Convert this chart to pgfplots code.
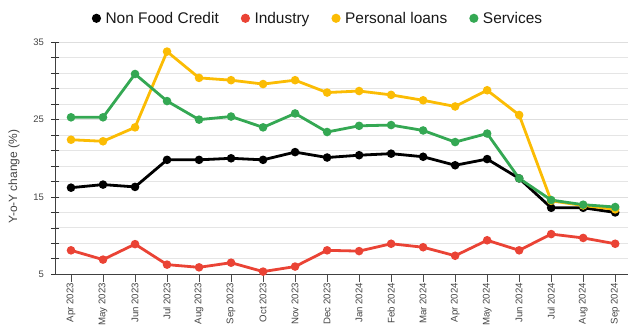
\documentclass[border=0pt]{standalone}
\usepackage{pgfplots}
\pgfplotsset{compat=1.18}
\usepackage{fontspec}
\setmainfont{Liberation Sans}
\definecolor{cRed}{HTML}{EA4335}
\definecolor{cYel}{HTML}{FBBC04}
\definecolor{cGrn}{HTML}{34A853}
\definecolor{cTick}{HTML}{444444}
\newcommand{\lf}{\fontsize{15.5}{17}\selectfont}
\begin{document}
\begin{tikzpicture}
\begin{axis}[
  name=ax,
  scale only axis, width=573bp, height=232bp,
  xmin=-0.5, xmax=17.4, ymin=5, ymax=35,
  axis x line*=bottom, axis y line*=left,
  axis line style={-, draw=black!75, line width=0.8bp},
  /pgf/number format/assume math mode=true,
  xtick={0,...,17},
  xticklabels={Apr 2023,May 2023,Jun 2023,Jul 2023,Aug 2023,Sep 2023,Oct 2023,Nov 2023,Dec 2023,Jan 2024,Feb 2024,Mar 2024,Apr 2024,May 2024,Jun 2024,Jul 2024,Aug 2024,Sep 2024},
  x tick label style={rotate=90, anchor=east, inner sep=1bp, font=\fontsize{9.7}{11}\selectfont, text=cTick},
  y tick label style={font=\fontsize{9.5}{11}\selectfont, text=cTick},
  ytick={5,15,25,35},
  minor ytick={7,9,11,13,17,19,21,23,27,29,31,33},
  tick align=outside,
  major tick length=7.5bp, minor tick length=8bp,
  x tick style={draw=black!70, line width=0.7bp},
  y tick style={draw=black!80, line width=0.7bp, xshift=4bp},
  ymajorgrids, yminorgrids,
  major grid style={draw=black!13, line width=0.8bp},
  minor grid style={draw=black!10, line width=0.8bp},
  ylabel={Y-o-Y change (\%)},
  ylabel style={at={(rel axis cs:-0.0716,0.42)}, anchor=center, font=\fontsize{12}{14}\selectfont, text=cTick},
  legend columns=4,
  legend style={draw=none, fill=none, at={(0.459,1)}, anchor=center, yshift=24bp,
    text=black!90,
    /tikz/every odd column/.append style={column sep=2.5bp},
    /tikz/every even column/.append style={column sep=20bp}},
  legend image code/.code={\fill[#1, draw=none] (0bp,0bp) circle (4.6bp);},
  every axis plot/.append style={line width=2.8bp, mark=*, mark size=2.8bp},
]
\addplot[black, mark options={fill=black}] coordinates {(0,16.2)(1,16.6)(2,16.3)(3,19.8)(4,19.8)(5,20.0)(6,19.8)(7,20.8)(8,20.1)(9,20.4)(10,20.6)(11,20.2)(12,19.1)(13,19.9)(14,17.4)(15,13.6)(16,13.6)(17,13.0)};
\addlegendentry{\lf Non Food Credit}
\addplot[cRed, mark options={fill=cRed}] coordinates {(0,8.1)(1,6.9)(2,8.9)(3,6.25)(4,5.9)(5,6.5)(6,5.35)(7,6.0)(8,8.1)(9,8.0)(10,8.95)(11,8.5)(12,7.4)(13,9.4)(14,8.1)(15,10.2)(16,9.7)(17,8.95)};
\addlegendentry{\lf Industry}
\addplot[cYel, mark options={fill=cYel}] coordinates {(0,22.4)(1,22.2)(2,24.0)(3,33.8)(4,30.4)(5,30.1)(6,29.6)(7,30.1)(8,28.5)(9,28.7)(10,28.2)(11,27.5)(12,26.7)(13,28.8)(14,25.6)(15,14.5)(16,13.9)(17,13.4)};
\addlegendentry{\lf Personal loans}
\addplot[cGrn, mark options={fill=cGrn}] coordinates {(0,25.3)(1,25.3)(2,30.9)(3,27.4)(4,25.0)(5,25.4)(6,24.0)(7,25.8)(8,23.4)(9,24.2)(10,24.3)(11,23.6)(12,22.1)(13,23.2)(14,17.4)(15,14.6)(16,14.0)(17,13.7)};
\addlegendentry{\lf Services}
\end{axis}
\pgfresetboundingbox
\path ([xshift=-55bp,yshift=-51.7bp]ax.south west) rectangle ([yshift=42.3bp]ax.north east);
\end{tikzpicture}
\end{document}
